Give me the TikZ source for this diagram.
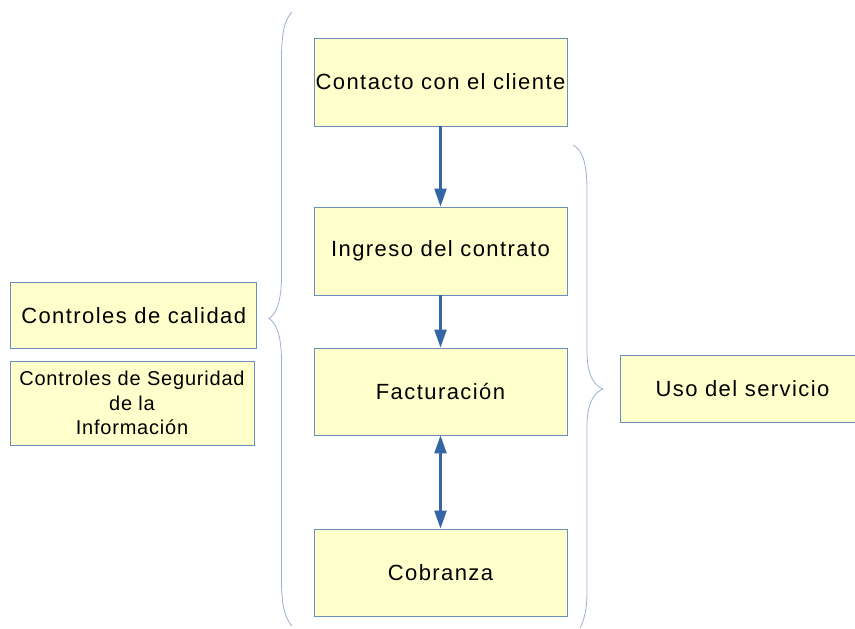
\documentclass[tikz,border=0pt]{standalone}
\usepackage{fontspec}
\setmainfont[LetterSpace=6.5]{Liberation Sans}
\newfontfamily\smallfont[LetterSpace=4]{Liberation Sans}
\usepackage{tikz}
\usetikzlibrary{arrows.meta}
\definecolor{boxfill}{HTML}{FFFFCC}
\definecolor{boxline}{HTML}{6C8EBF}
\definecolor{arrowblue}{HTML}{3465A4}
\definecolor{bracegray}{HTML}{9AB0D0}

\begin{document}
\begin{tikzpicture}[x=1pt,y=-1pt,
		box/.style={draw=boxline,line width=0.8pt,fill=boxfill,inner sep=0pt,align=center,font=\fontsize{22}{26}\selectfont},
		flow/.style={arrowblue,line width=2.2pt,-{Triangle[length=18pt,width=12pt]}},
		brace/.style={bracegray,line width=0.8pt}]
		\clip (0,0) rectangle (855,629);
		\fill[white] (0,0) rectangle (855,629);
		% central column
		\node[box,minimum width=253pt,minimum height=88pt] (contacto) at (440.5,82) {Contacto con el cliente};
		\node[box,minimum width=253pt,minimum height=88pt] (ingreso) at (440.5,251) {Ingreso del contrato};
		\node[box,minimum width=253pt,minimum height=87pt] (factura) at (440.5,391.5) {Facturación};
		\node[box,minimum width=253pt,minimum height=87pt] (cobranza) at (440.5,572.5) {Cobranza};
		% side boxes
		\node[box,minimum width=246pt,minimum height=66pt] (calidad) at (133.7,315.3) {Controles de calidad};
		\node[box,minimum width=244pt,minimum height=84pt,font=\smallfont\fontsize{20}{24.5}\selectfont] (seguridad) at (132,403) {Controles de Seguridad\\de la\\Información};
		\node[box,minimum width=245pt,minimum height=67pt] (uso) at (742.5,388.7) {Uso del servicio};
		% arrows
		\draw[flow] (contacto.south) -- (ingreso.north);
		\draw[flow] (ingreso.south) -- (factura.north);
		\draw[flow,{Triangle[length=18pt,width=12pt]}-{Triangle[length=18pt,width=12pt]}] (factura.south) -- (cobranza.north);
		% braces
		\draw[brace] (292,12) .. controls (284,20) and (281.5,35) .. (281.5,60) -- (281.5,276) .. controls (281.5,302) and (276,314) .. (269,318.5) .. controls (276,323) and (281.5,335) .. (281.5,361) -- (281.5,578) .. controls (281.5,603) and (284,617) .. (292,626);
		\draw[brace] (573,145) .. controls (583,150) and (587,165) .. (587,190) -- (587,352) .. controls (587,376) and (595,386) .. (603,389) .. controls (595,392) and (587,402) .. (587,426) -- (587,592) .. controls (587,610) and (584,620) .. (580,628);
	\end{tikzpicture}
\end{document}
